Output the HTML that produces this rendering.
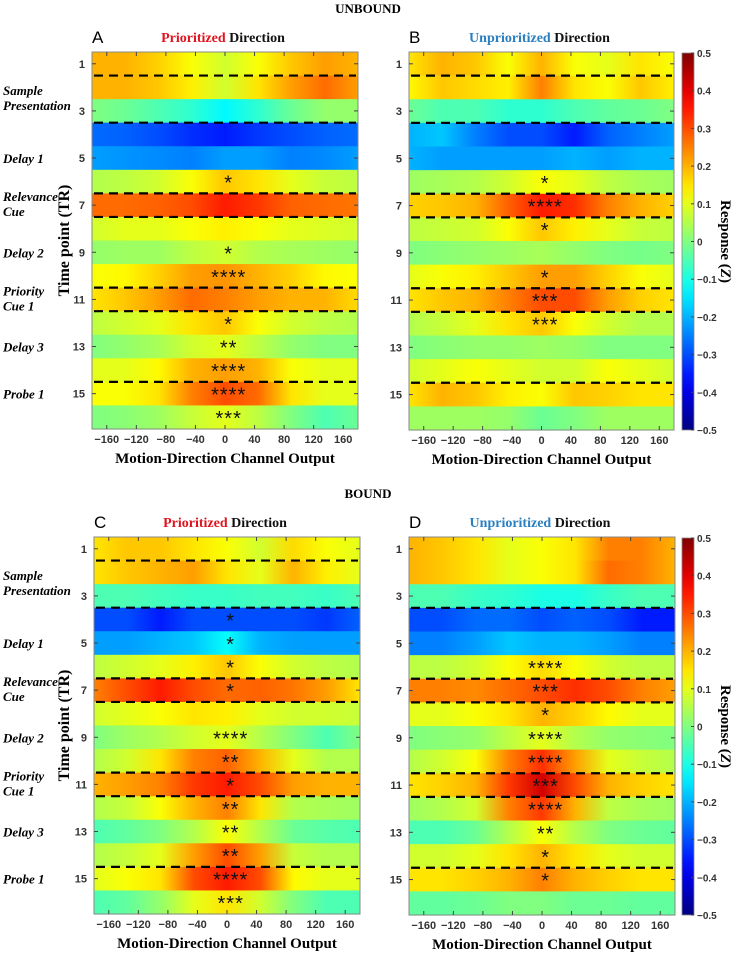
<!DOCTYPE html>
<html><head><meta charset="utf-8"><style>
body{margin:0;background:#fff}
svg text{font-family:"Liberation Serif",serif}
.sans{font-family:"Liberation Sans",sans-serif}
</style></head><body>
<svg id="fig" width="736" height="954" viewBox="0 0 736 954" xmlns="http://www.w3.org/2000/svg">
<defs id="defs"></defs>
<text x="368" y="13" text-anchor="middle" font-weight="bold" font-size="13">UNBOUND</text>
<text x="368" y="498" text-anchor="middle" font-weight="bold" font-size="13">BOUND</text>
</svg>
<script>
const degs=[-180,-135,-90,-45,0,45,90,135,180];
const xTicks=[-160,-120,-80,-40,0,40,80,120,160];
const yTicks=[1,3,5,7,9,11,13,15];
const cbTicks=[0.5,0.4,0.3,0.2,0.1,0,-0.1,-0.2,-0.3,-0.4,-0.5];
const dashRowsABC=[1.5,3.5,6.5,7.5,10.5,11.5,14.5];
const dashRowsD=[3.5,6.5,7.5,10.5,11.5,14.5];
const valsA=[
[0.2,0.2,0.17,0.12,0.08,0.12,0.18,0.22,0.2],
[0.2,0.2,0.18,0.14,0.08,0.15,0.22,0.27,0.22],
[0.0,-0.02,-0.05,-0.08,-0.13,-0.08,-0.02,0.02,0.02],
[-0.27,-0.28,-0.3,-0.33,-0.35,-0.32,-0.3,-0.28,-0.27],
[-0.22,-0.23,-0.24,-0.25,-0.22,-0.22,-0.25,-0.24,-0.22],
[0.05,0.06,0.08,0.12,0.18,0.15,0.1,0.07,0.06],
[0.27,0.27,0.28,0.3,0.35,0.32,0.28,0.27,0.26],
[0.08,0.1,0.1,0.12,0.14,0.12,0.1,0.09,0.08],
[0.02,0.03,0.03,0.06,0.08,0.05,0.04,0.03,0.02],
[0.12,0.13,0.17,0.22,0.23,0.2,0.17,0.13,0.12],
[0.15,0.18,0.22,0.27,0.25,0.22,0.2,0.2,0.16],
[0.06,0.08,0.1,0.15,0.18,0.12,0.08,0.06,0.05],
[0.0,0.02,0.04,0.08,0.1,0.06,0.02,0.0,0.0],
[0.1,0.1,0.13,0.2,0.22,0.2,0.12,0.1,0.1],
[0.12,0.12,0.15,0.25,0.3,0.27,0.15,0.1,0.1],
[0.0,0.01,0.03,0.07,0.1,0.06,0.0,-0.05,-0.02]];
const valsB=[
[0.15,0.2,0.18,0.12,0.2,0.12,0.1,0.15,0.12],
[0.13,0.18,0.16,0.14,0.25,0.15,0.12,0.18,0.14],
[-0.02,-0.05,-0.05,-0.08,-0.08,-0.05,-0.03,-0.02,0.0],
[-0.2,-0.18,-0.25,-0.3,-0.3,-0.35,-0.28,-0.25,-0.22],
[-0.2,-0.22,-0.22,-0.22,-0.22,-0.2,-0.22,-0.2,-0.2],
[0.03,0.04,0.05,0.08,0.12,0.1,0.06,0.04,0.03],
[0.17,0.18,0.2,0.28,0.35,0.33,0.25,0.2,0.17],
[0.06,0.07,0.08,0.12,0.18,0.14,0.1,0.07,0.06],
[0.0,0.01,0.02,0.03,0.04,0.02,0.0,-0.01,0.0],
[0.1,0.12,0.14,0.18,0.22,0.22,0.17,0.12,0.1],
[0.15,0.18,0.2,0.25,0.3,0.3,0.22,0.17,0.15],
[0.05,0.07,0.1,0.15,0.18,0.12,0.08,0.05,0.05],
[0.0,0.01,0.02,0.02,0.03,0.02,0.0,0.0,0.0],
[0.08,0.1,0.12,0.1,0.08,0.08,0.12,0.1,0.08],
[0.15,0.2,0.18,0.14,0.12,0.18,0.17,0.15,0.15],
[0.03,0.03,0.03,0.02,-0.02,0.0,0.03,0.03,0.03]];
const valsC=[
[0.15,0.18,0.18,0.15,0.12,0.08,0.16,0.12,0.1],
[0.15,0.18,0.2,0.22,0.15,0.1,0.2,0.14,0.1],
[-0.05,-0.05,-0.06,-0.07,-0.07,-0.06,-0.06,-0.07,-0.05],
[-0.3,-0.3,-0.35,-0.3,-0.3,-0.3,-0.3,-0.32,-0.28],
[-0.22,-0.22,-0.2,-0.18,-0.12,-0.2,-0.22,-0.22,-0.22],
[0.06,0.08,0.1,0.14,0.18,0.12,0.08,0.06,0.05],
[0.25,0.3,0.35,0.3,0.27,0.28,0.26,0.22,0.15],
[0.08,0.1,0.12,0.15,0.14,0.1,0.08,0.08,0.07],
[0.0,0.03,0.05,0.08,0.1,0.05,0.0,-0.05,0.0],
[0.05,0.08,0.15,0.25,0.28,0.2,0.1,0.05,0.05],
[0.2,0.22,0.25,0.32,0.35,0.3,0.22,0.2,0.2],
[0.05,0.07,0.12,0.2,0.25,0.15,0.05,0.04,0.03],
[-0.05,-0.03,0.0,0.05,0.12,0.05,-0.02,-0.04,-0.05],
[0.05,0.07,0.1,0.22,0.3,0.22,0.07,0.05,0.05],
[0.1,0.12,0.15,0.3,0.35,0.3,0.13,0.1,0.1],
[-0.05,-0.03,0.02,0.1,0.15,0.08,0.0,-0.05,-0.05]];
const valsD=[
[0.2,0.18,0.15,0.1,0.12,0.15,0.25,0.25,0.2],
[0.2,0.18,0.15,0.1,0.12,0.15,0.27,0.25,0.2],
[-0.05,-0.05,-0.07,-0.08,-0.1,-0.1,-0.07,-0.05,-0.05],
[-0.3,-0.3,-0.27,-0.27,-0.3,-0.28,-0.3,-0.35,-0.35],
[-0.25,-0.25,-0.22,-0.18,-0.2,-0.2,-0.22,-0.25,-0.25],
[0.06,0.06,0.08,0.12,0.16,0.12,0.08,0.06,0.06],
[0.25,0.25,0.24,0.27,0.3,0.33,0.3,0.25,0.22],
[0.1,0.1,0.12,0.15,0.2,0.17,0.13,0.1,0.1],
[0.0,0.01,0.02,0.06,0.1,0.05,0.02,0.01,0.0],
[0.05,0.08,0.12,0.25,0.33,0.22,0.1,0.07,0.05],
[0.15,0.17,0.2,0.32,0.42,0.3,0.2,0.17,0.15],
[0.03,0.05,0.08,0.25,0.32,0.2,0.06,0.04,0.03],
[-0.05,-0.05,-0.02,0.05,0.12,0.05,0.0,-0.02,-0.03],
[0.08,0.08,0.1,0.15,0.2,0.15,0.1,0.08,0.08],
[0.15,0.15,0.17,0.2,0.25,0.2,0.17,0.15,0.15],
[-0.03,-0.03,-0.02,0.0,0.0,-0.02,-0.02,-0.03,-0.03]];
const starsA=["","","","","","*","","","*","****","","*","**","****","****","***"];
const starsB=["","","","","","*","****","*","","*","***","***","","","",""];
const starsC=["","","","*","*","*","*","","****","**","*","**","**","**","****","***"];
const starsD=["","","","","","****","***","*","****","****","***","****","**","*","*",""];
const events=[["Sample","Presentation",2.5],["Delay 1","",5],["Relevance","Cue",7],["Delay 2","",9],["Priority","Cue 1",11],["Delay 3","",13],["Probe 1","",15]];

const NS="http://www.w3.org/2000/svg";
const svg=document.getElementById('fig');
const defs=document.getElementById('defs');
function mk(tag,attrs,parent){const e=document.createElementNS(NS,tag);for(const k in attrs)e.setAttribute(k,attrs[k]);(parent||svg).appendChild(e);return e;}
function cl(v){return Math.max(0,Math.min(1,v));}
function jet(v){const t=cl(v+0.5);const r=cl(1.5-Math.abs(4*t-3)),g=cl(1.5-Math.abs(4*t-2)),b=cl(1.5-Math.abs(4*t-1));return `rgb(${Math.round(r*255)},${Math.round(g*255)},${Math.round(b*255)})`;}

const panels=[
{id:'a',letter:'A',x0:92,x1:358,y0:52,y1:429,vals:valsA,stars:starsA,dash:dashRowsABC,word:'Prioritized',col:'#e0141e',left:true,cb:false},
{id:'b',letter:'B',x0:409,x1:674,y0:52,y1:430,vals:valsB,stars:starsB,dash:dashRowsABC,word:'Unprioritized',col:'#2a7fc0',left:false,cb:true},
{id:'c',letter:'C',x0:94,x1:360,y0:537,y1:914,vals:valsC,stars:starsC,dash:dashRowsABC,word:'Prioritized',col:'#e0141e',left:true,cb:false},
{id:'d',letter:'D',x0:409,x1:675,y0:537,y1:915,vals:valsD,stars:starsD,dash:dashRowsD,word:'Unprioritized',col:'#2a7fc0',left:false,cb:true}];

panels.forEach(p=>{
  const xs=d=>p.x0+(d+180)/360*(p.x1-p.x0);
  const rh=(p.y1-p.y0)/16;
  const ys=r=>p.y0+(r-0.5)*rh; // row center (1-based)
  const g=mk('g',{});
  
  
  p.vals.forEach((row,i)=>{
    const gid='grad'+p.id+i;
    const lg=mk('linearGradient',{id:gid,x1:'0',x2:'1',y1:'0',y2:'0'},defs);
    row.forEach((v,j)=>{mk('stop',{offset:((degs[j]+180)/360).toFixed(4),'stop-color':jet(v)},lg);});
    const r=mk('rect',{x:p.x0,y:(p.y0+i*rh).toFixed(2),width:p.x1-p.x0,height:(rh+0.6).toFixed(2),fill:`url(#${gid})`},g);
    
    
  });
  mk('rect',{x:p.x0,y:p.y0,width:p.x1-p.x0,height:p.y1-p.y0,fill:'none',stroke:'#888','stroke-width':1},g);
  p.dash.forEach(r=>{
    const y=ys(r);
    const l=mk('line',{x1:p.x0+2,x2:p.x1-2,y1:y,y2:y,stroke:'#000','stroke-width':2.2,'stroke-dasharray':'9,6'},g);
    
    
  });
  p.stars.forEach((s,i)=>{
    if(!s) return;
    const t=mk('text',{x:xs(5),y:(ys(i+1)+8).toFixed(1),'text-anchor':'middle','font-size':'20','letter-spacing':'1',fill:'#111',class:'sans'},g);
    t.textContent=s;
    
    
  });
  xTicks.forEach(d=>{
    const x=xs(d);
    mk('line',{x1:x,x2:x,y1:p.y1,y2:p.y1-4,stroke:'#444'},g);
    mk('line',{x1:x,x2:x,y1:p.y0,y2:p.y0+4,stroke:'#444'},g);
    const t=mk('text',{x:x,y:p.y1+14,'text-anchor':'middle','font-size':'11','font-weight':'bold',fill:'#333',class:'sans'},g);
    t.textContent=d<0?'\u2212'+(-d):String(d);
    
    
  });
  yTicks.forEach(r=>{
    const y=ys(r);
    mk('line',{x1:p.x0,x2:p.x0+4,y1:y,y2:y,stroke:'#444'},g);
    mk('line',{x1:p.x1,x2:p.x1-4,y1:y,y2:y,stroke:'#444'},g);
    const t=mk('text',{x:p.x0-7,y:y+4,'text-anchor':'end','font-size':'11','font-weight':'bold',fill:'#333',class:'sans'},g);
    t.textContent=r;
    
    
  });
  const cx=(p.x0+p.x1)/2;
  const xt=mk('text',{x:cx,y:p.y1+34,'text-anchor':'middle','font-size':'15','font-weight':'bold'},g);
  xt.textContent='Motion-Direction Channel Output';
  
  
  const lt=mk('text',{x:p.x0,y:p.y0-9,'font-size':'17',class:'sans'},g);
  lt.textContent=p.letter;
  
  
  const tt=mk('text',{x:cx-2,y:p.y0-10,'text-anchor':'middle','font-size':'14','font-weight':'bold'},g);
  
  
  const s1=mk('tspan',{fill:p.col},tt);s1.textContent=p.word;
  const s2=mk('tspan',{fill:'#111'},tt);s2.textContent=' Direction';
  if(p.left){
    const ya=mk('text',{transform:`translate(69,${(p.y0+p.y1)/2}) rotate(-90)`,'text-anchor':'middle','font-size':'16','font-weight':'bold'},g);
    ya.textContent='Time point (TR)';
    
    
    events.forEach(ev=>{
      const y=ys(ev[2]);
      const two=ev[1]!=='';
      const t1=mk('text',{x:3,y:two?y-4:y+5,'font-size':'13','font-weight':'bold','font-style':'italic'},g);
      t1.textContent=ev[0];
      
      
      if(two){const t2=mk('text',{x:3,y:y+11,'font-size':'13','font-weight':'bold','font-style':'italic'},g);t2.textContent=ev[1];
        
        }
    });
  }
  if(p.cb){
    const cbx=682,cbw=12,cy0=p.y0+1,cy1=p.y1;
    const cg=mk('g',{});
    
    
    const gid='cbg'+p.id;
    const lg=mk('linearGradient',{id:gid,x1:'0',x2:'0',y1:'1',y2:'0'},defs);
    for(let k=0;k<=20;k++){mk('stop',{offset:k/20,'stop-color':jet(-0.5+k/20)},lg);}
    mk('rect',{x:cbx,y:cy0,width:cbw,height:cy1-cy0,fill:`url(#${gid})`,stroke:'#888','stroke-width':0.8},cg);
    const cs=v=>cy1-(v+0.5)*(cy1-cy0);
    cbTicks.forEach(v=>{
      const y=cs(v);
      mk('line',{x1:cbx+cbw-3,x2:cbx+cbw,y1:y,y2:y,stroke:'#444'},cg);
      const t=mk('text',{x:cbx+cbw+3,y:y+4,'font-size':'10','font-weight':'bold',fill:'#333',class:'sans'},cg);
      t.textContent=v<0?'\u2212'+(-v):String(v);
      
      
    });
    const rt=mk('text',{transform:`translate(721,${(cy0+cy1)/2}) rotate(90)`,'text-anchor':'middle','font-size':'15','font-weight':'bold'},cg);
    
    
    const a=mk('tspan',{},rt);a.textContent='Response (';
    const b=mk('tspan',{'font-style':'italic'},rt);b.textContent='Z';
    const c=mk('tspan',{},rt);c.textContent=')';
  }
});
</script>
</body></html>
